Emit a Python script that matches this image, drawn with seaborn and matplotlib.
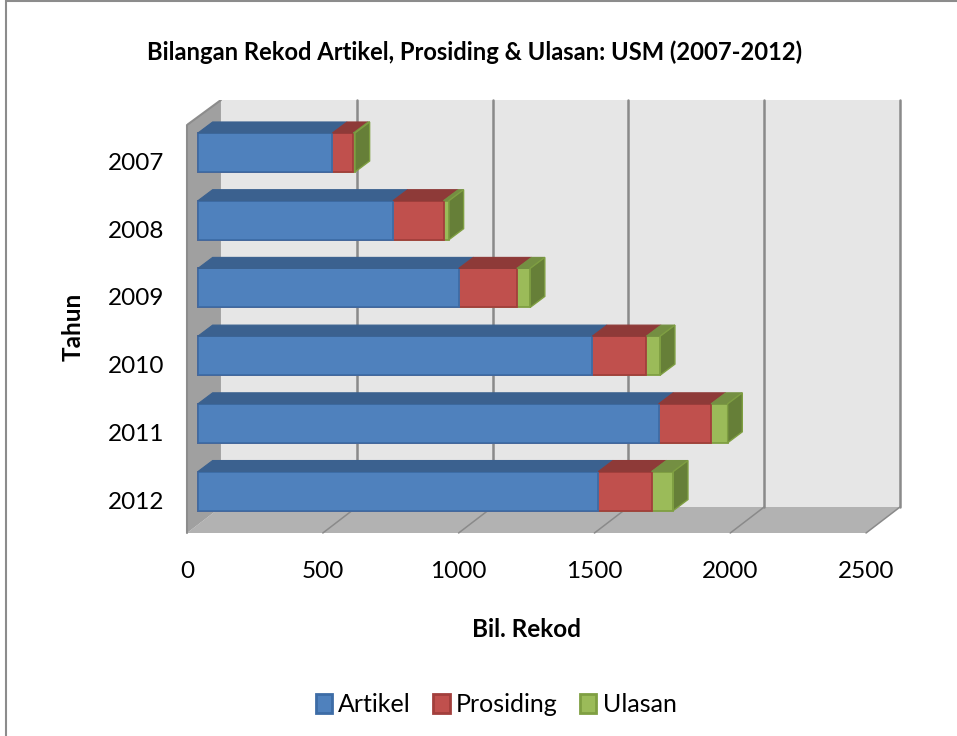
import numpy as np
import matplotlib
matplotlib.use('Agg')
import matplotlib.pyplot as plt
from matplotlib.lines import Line2D
from matplotlib.patches import Patch, Polygon
from matplotlib.transforms import ScaledTranslation
import seaborn as sns

# Values
years = ['2007', '2008', '2009', '2010', '2011', '2012']
artikel = [495, 718, 960, 1452, 1696, 1474]
prosiding = [77, 186, 214, 199, 193, 196]
ulasan = [6, 20, 49, 51, 61, 80]
x_ticks = [0, 500, 1000, 1500, 2000, 2500]
series_names = ['Artikel', 'Prosiding', 'Ulasan']

# front, edge, top, side colours per series
blue = ['#4F81BD', '#3D6CA6', '#3B618F', '#3B618F']
red = ['#C0504D', '#A23F3C', '#8E3A38', '#8E3A38']
green = ['#9BBB59', '#7F9F42', '#748F42', '#667F38']

sns.set_theme(style='white')
plt.rcParams['font.family'] = ['Lato', 'DejaVu Sans']
plt.rcParams['text.color'] = 'black'
plt.rcParams['axes.labelcolor'] = 'black'

W, H = 957, 736
fig = plt.figure(figsize=(W / 100, H / 100), dpi=100)
ax = fig.add_axes([187 / W, (H - 533) / H, 713 / W, 433 / H])
ax.patch.set_visible(False)
for s in ax.spines.values():
    s.set_visible(False)

bot = np.array(artikel)
mid = bot + np.array(prosiding)
top = mid + np.array(ulasan)

# layered so that each series starts where the one before ends
bar_h = 0.576
for vals, c in [(top, green), (mid, red), (bot, blue)]:
    sns.barplot(x=vals, y=years, orient='h', color=c[0], saturation=1, width=bar_h,
                edgecolor=c[1], linewidth=1.3, ax=ax, zorder=3)

x_left, x_right = -40.4, 2584.6
y_front, y_back, y_top, y_side = 5.62, 5.236, -0.775, -0.406
ax.set_xlim(x_left, x_right)
ax.set_ylim(y_front, y_top)
ax.set_xticks(x_ticks)
ax.set_xlabel('')
ax.set_ylabel('')

# Walls and floor of the 3D box
wall_dx = 84.6
ax.add_patch(Polygon([(wall_dx, y_top), (x_right, y_top), (x_right, y_back), (wall_dx, y_back)],
                     fc='#E6E6E6', ec='none', zorder=0))
ax.add_patch(Polygon([(x_left, y_front), (x_left + 2500, y_front), (x_right, y_back), (wall_dx, y_back)],
                     fc='#B2B2B2', ec='none', zorder=0, clip_on=False))
ax.add_patch(Polygon([(x_left, y_side), (wall_dx, y_top), (wall_dx, y_back), (x_left, y_front)],
                     fc='#A0A0A0', ec='none', zorder=0.5, clip_on=False))
ax.plot([x_left, wall_dx], [y_side, y_top], color='#8C8C8C', lw=1.5, zorder=1)
ax.plot([x_left, x_left], [y_side, y_front], color='#8C8C8C', lw=1.5, zorder=1, clip_on=False)
for v in x_ticks[1:]:
    ax.plot([v + wall_dx] * 2, [y_top, y_back], color='#8A8A8A', lw=1.8, zorder=1, clip_on=False)
    ax.plot([v + x_left, v + wall_dx], [y_front, y_back], color='#8A8A8A', lw=1.1, zorder=1, clip_on=False)

# Top and end faces of each bar
dx, dy = 54, 0.1625
for i in range(len(years)):
    yt = i - bar_h / 2
    yb = i + bar_h / 2
    starts = [0, bot[i], mid[i]]
    ends = [bot[i], mid[i], top[i]]
    for start, end, c in zip(starts, ends, [blue, red, green]):
        ax.add_patch(Polygon([(start, yt), (end, yt), (end + dx, yt - dy), (start + dx, yt - dy)],
                             fc=c[2], ec=c[2], lw=0.8, zorder=4))
    ax.add_patch(Polygon([(top[i], yt), (top[i] + dx, yt - dy), (top[i] + dx, yb - dy), (top[i], yb)],
                         fc=green[3], ec=green[1], lw=1, zorder=4))

# Tick labels sit on the front edge of the floor, not on the bar plane
ax.tick_params(axis='both', length=0, labelsize=17.5, colors='black')
ax.tick_params(axis='x', pad=20)
ax.tick_params(axis='y', pad=16.5)
shift_x = ScaledTranslation(-11 / 100, 0, fig.dpi_scale_trans)
shift_y = ScaledTranslation(0, -9 / 100, fig.dpi_scale_trans)
for lab in ax.get_xticklabels():
    lab.set_transform(lab.get_transform() + shift_x)
for lab in ax.get_yticklabels():
    lab.set_transform(lab.get_transform() + shift_y)

ax.set_xlabel('Bil. Rekod', fontsize=17.5, fontweight='bold')
ax.xaxis.set_label_coords(0.4755, -0.196)
ax.set_ylabel('Tahun', fontsize=17.5, fontweight='bold')
ax.yaxis.set_label_coords(-0.143, 0.476)

fig.text(475 / W, 1 - 52 / H, 'Bilangan Rekod Artikel, Prosiding & Ulasan: USM (2007-2012)',
         fontsize=17.1, fontweight='bold', ha='center', va='center')

handles = [Patch(fc=c[0], ec=c[1], lw=2) for c in [blue, red, green]]
fig.legend(handles, series_names, loc='center', bbox_to_anchor=(496 / W, 1 - 705 / H), ncol=3,
           frameon=False, fontsize=18, handlelength=0.65, handleheight=0.8,
           handletextpad=0.25, columnspacing=0.9)

# Chart frame, only partly inside the crop
fig.add_artist(Line2D([5.5 / W, 5.5 / W], [0, 1], color='#8C8C8C', lw=1.5))
fig.add_artist(Line2D([5.5 / W, 1], [1 - 0.5 / H, 1 - 0.5 / H], color='#8C8C8C', lw=1.5))

fig.savefig('out.png', dpi=100)
